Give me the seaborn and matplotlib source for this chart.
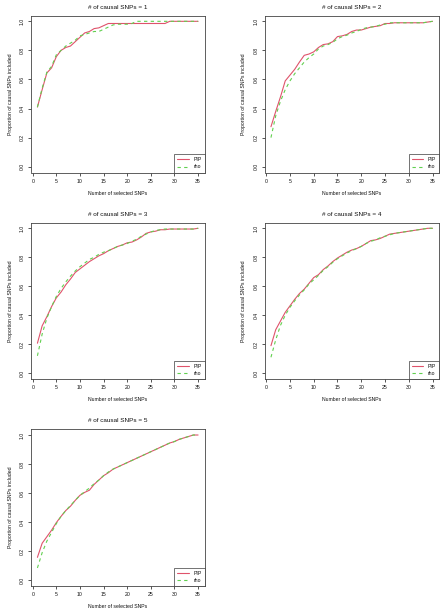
import numpy as np
import pandas as pd
import matplotlib
matplotlib.use("Agg")
import matplotlib.pyplot as plt
from matplotlib.lines import Line2D
import seaborn as sns

x = list(range(1, 36))

pip1 = [0.41, 0.53, 0.645, 0.68, 0.757, 0.80, 0.82, 0.83, 0.86, 0.89, 0.92, 0.93, 0.95, 0.955, 0.97,
        0.985, 0.985, 0.985, 0.985, 0.985, 0.985, 0.985, 0.985, 0.985, 0.985, 0.985, 0.985, 0.985, 1.0,
        1.0, 1.0, 1.0, 1.0, 1.0, 1.0]
rho1 = [0.41, 0.54, 0.65, 0.69, 0.77, 0.80, 0.83, 0.85, 0.87, 0.90, 0.91, 0.92, 0.93, 0.93, 0.945,
        0.96, 0.975, 0.98, 0.98, 0.98, 0.985, 1.0, 1.0, 1.0, 1.0, 1.0, 1.0, 1.0, 1.0,
        1.0, 1.0, 1.0, 1.0, 1.0, 1.0]

pip2 = [0.275, 0.38, 0.48, 0.59, 0.63, 0.67, 0.72, 0.766, 0.775, 0.79, 0.82, 0.84, 0.845, 0.86, 0.895,
        0.90, 0.91, 0.93, 0.94, 0.94, 0.95, 0.96, 0.965, 0.97, 0.985, 0.985, 0.99, 0.99, 0.99,
        0.99, 0.99, 0.99, 0.99, 0.995, 1.0]
rho2 = [0.20, 0.35, 0.45, 0.53, 0.59, 0.64, 0.68, 0.72, 0.75, 0.775, 0.81, 0.83, 0.84, 0.855, 0.88,
        0.895, 0.905, 0.92, 0.93, 0.945, 0.955, 0.96, 0.965, 0.975, 0.98, 0.99, 0.99, 0.99, 0.99,
        0.99, 0.99, 0.99, 0.99, 0.995, 1.0]

pip3 = [0.207, 0.327, 0.39, 0.46, 0.52, 0.56, 0.61, 0.65, 0.695, 0.72, 0.745, 0.77, 0.79, 0.81, 0.825,
        0.845, 0.86, 0.875, 0.885, 0.90, 0.905, 0.92, 0.94, 0.965, 0.975, 0.98, 0.99, 0.99, 0.995,
        0.995, 0.995, 0.995, 0.995, 0.995, 1.0]
rho3 = [0.12, 0.27, 0.38, 0.46, 0.53, 0.585, 0.63, 0.67, 0.705, 0.735, 0.76, 0.785, 0.80, 0.82, 0.835,
        0.845, 0.86, 0.875, 0.885, 0.895, 0.91, 0.925, 0.945, 0.96, 0.975, 0.985, 0.99, 0.995, 0.995,
        0.995, 0.995, 0.995, 0.995, 0.995, 1.0]

pip4 = [0.19, 0.30, 0.36, 0.42, 0.465, 0.51, 0.55, 0.58, 0.62, 0.66, 0.68, 0.715, 0.74, 0.77, 0.795,
        0.815, 0.835, 0.85, 0.86, 0.875, 0.895, 0.915, 0.92, 0.93, 0.945, 0.96, 0.965, 0.97, 0.975,
        0.98, 0.985, 0.99, 0.995, 1.0, 1.0]
rho4 = [0.11, 0.23, 0.33, 0.40, 0.455, 0.50, 0.54, 0.575, 0.615, 0.645, 0.675, 0.71, 0.735, 0.765, 0.79,
        0.81, 0.83, 0.845, 0.86, 0.875, 0.895, 0.91, 0.92, 0.935, 0.945, 0.955, 0.965, 0.97, 0.975,
        0.98, 0.985, 0.99, 0.995, 1.0, 1.0]

pip5 = [0.158, 0.255, 0.30, 0.345, 0.397, 0.44, 0.48, 0.51, 0.55, 0.585, 0.605, 0.62, 0.66, 0.69, 0.72,
        0.74, 0.765, 0.78, 0.795, 0.81, 0.825, 0.84, 0.855, 0.87, 0.885, 0.90, 0.915, 0.93, 0.945,
        0.955, 0.97, 0.98, 0.99, 1.0, 1.0]
rho5 = [0.085, 0.19, 0.27, 0.33, 0.39, 0.44, 0.48, 0.515, 0.55, 0.585, 0.61, 0.635, 0.665, 0.69, 0.72,
        0.745, 0.765, 0.78, 0.795, 0.81, 0.825, 0.84, 0.855, 0.87, 0.885, 0.90, 0.915, 0.93, 0.945,
        0.955, 0.97, 0.98, 0.99, 1.0, 1.0]

pip_all = [pip1, pip2, pip3, pip4, pip5]
rho_all = [rho1, rho2, rho3, rho4, rho5]
titles = ["# of causal SNPs = %d" % k for k in range(1, 6)]
xticks = [0, 5, 10, 15, 20, 25, 30, 35]
yticks = [0.0, 0.2, 0.4, 0.6, 0.8, 1.0]
series_names = ["PIP", "rho"]

sns.set_style("white")
plt.rcParams["font.family"] = ["Liberation Sans", "DejaVu Sans"]

W, H = 441, 613
fig = plt.figure(figsize=(W / 100, H / 100), dpi=100)

cols = [(31, 204.5), (264.5, 439)]
rows = [(15.5, 172.5), (222.5, 379), (429.2, 586.1)]
RED = "#DF536B"
GREEN = "#61D04F"
TXT = "#111111"
FS = 3.7

for i in range(5):
    r, c = divmod(i, 2)
    l, rr = cols[c]
    t, b = rows[r]
    ax = fig.add_axes([l / W, (H - b) / H, (rr - l) / W, (b - t) / H])
    df = pd.DataFrame({
        "x": x * 2,
        "y": pip_all[i] + rho_all[i],
        "s": [series_names[0]] * len(x) + [series_names[1]] * len(x),
    })
    sns.lineplot(data=df, x="x", y="y", hue="s", style="s",
                 palette={"PIP": RED, "rho": GREEN},
                 dashes={"PIP": "", "rho": (3, 3)},
                 linewidth=0.8, ax=ax, legend=False)
    ax.set_xlim(1 - 0.04 * 34, 35 + 0.04 * 34)
    ax.set_ylim(-0.04, 1.04)
    ax.set_xticks(xticks)
    ax.set_yticks(yticks)
    ax.set_xticklabels([str(v) for v in xticks])
    ax.set_yticklabels(["%.1f" % v for v in yticks], rotation=90, va="center")
    ax.tick_params(axis="both", which="both", direction="out", length=2.2, width=0.5,
                   colors=TXT, labelsize=FS, pad=2.3, bottom=True, left=True)
    for sp in ax.spines.values():
        sp.set_color("#444444")
        sp.set_linewidth(0.6)
    ax.set_xlabel("Number of selected SNPs", fontsize=FS, color=TXT, labelpad=5)
    ax.set_ylabel("Proportion of causal SNPs included", fontsize=FS, color=TXT, labelpad=5)
    ax.set_title(titles[i], fontsize=4.6, color=TXT, pad=5)
    handles = [Line2D([], [], color=RED, lw=0.8),
               Line2D([], [], color=GREEN, lw=0.8, dashes=(3, 3))]
    leg = ax.legend(handles, series_names, loc="lower right", fontsize=FS,
                    borderaxespad=0, frameon=True, fancybox=False,
                    handlelength=2.2, handletextpad=0.9, borderpad=0.6,
                    labelspacing=0.45)
    leg.get_frame().set_edgecolor("#333333")
    leg.get_frame().set_linewidth(0.6)
    for txt in leg.get_texts():
        txt.set_color(TXT)

fig.savefig("out.png", dpi=100)
